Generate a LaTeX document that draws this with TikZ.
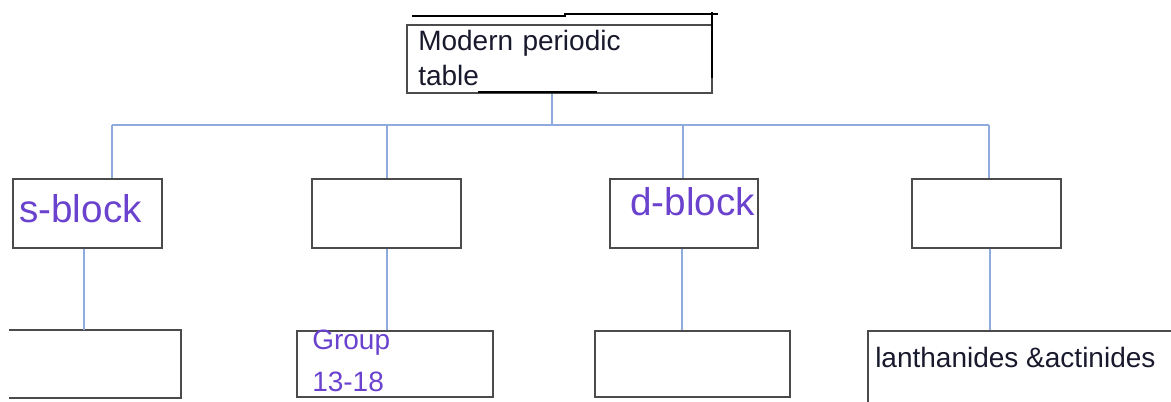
\documentclass[tikz,border=0pt]{standalone}
\usepackage{fontspec}
\setmainfont{Liberation Sans}
\usetikzlibrary{positioning,calc}
\definecolor{linkblue}{RGB}{143,170,220}
\definecolor{blockpurple}{RGB}{106,66,206}
\definecolor{boxgray}{RGB}{75,75,75}
\definecolor{inkdark}{RGB}{25,25,45}

\begin{document}
\begin{tikzpicture}[x=0.75pt,y=-0.75pt,
        box/.style={draw=boxgray,line width=1.6pt,inner sep=0pt,minimum height=51.75pt},
        lowbox/.style={box,minimum height=49.5pt},
        link/.style={draw=linkblue,line width=1.3pt},
        scribble/.style={draw=black,line width=1.6pt},
        txt/.style={inner sep=0pt,anchor=base west,align=left},
        small/.style={txt,font=\fontsize{21}{26.25}\selectfont,text=inkdark},
        big/.style={txt,font=\fontsize{29}{34}\selectfont,text=blockpurple}]
    \useasboundingbox (0,0) rectangle (1171,402);

    % top box
    \node[box,minimum width=228.75pt,minimum height=51pt] (T) at (559.5,59) {};
    \node[small,text width=212pt] (tT) at (418,51) {Modern periodic\\table};
    \draw[scribble] (412,16) -- (565,16) -- (565,14) -- (718,14);
    \draw[scribble] (712,12) -- (712,78);
    \draw[scribble,line width=2pt] (478,92) -- (597,92);

    % second row
    \node[box,minimum width=111.75pt] (B1) at (87.5,213.5) {};
    \node[box,minimum width=111.75pt] (B2) at (386.5,213.5) {};
    \node[box,minimum width=111pt] (B3) at (684,213.5) {};
    \node[box,minimum width=111.75pt] (B4) at (986.5,213.5) {};
    \node[big] (tB1) at (19,223) {s-block};
    \node[big] (tB3) at (630,216) {d-block};

    % third row
    \node[lowbox,draw=none,minimum width=127.5pt] (C1) at (95,364) {};
    \draw[boxgray,line width=1.6pt] (C1.north west) -- (C1.north east) -- (C1.south east) -- (C1.south west);
    \node[lowbox,minimum width=147pt] (C2) at (395,364) {};
    \node[lowbox,minimum width=146.25pt] (C3) at (692.5,364) {};
    \node[lowbox,minimum width=240pt,minimum height=60pt] (C4) at (1028,371) {};
    \node[small,text=blockpurple,text width=120pt,font=\fontsize{21}{31.5}\selectfont] (tC2) at (312,350) {Group\\13-18};
    \node[small] (tC4) at (875,368) {lanthanides \&actinides};

    % connectors
    \coordinate (J0) at (552,125);
    \foreach \n/\x in {1/112,2/387,3/683,4/989}
        {
            \coordinate (J\n) at (\x,125);
        }
    \draw[link] (T.south -| J0) -- (J0);
    \draw[link] (J1) -- (J4);
    \foreach \n in {1,...,4}
        {
            \draw[link] (J\n) -- (J\n |- B\n.north);
        }
    \foreach \n/\x in {1/84,2/387,3/682,4/990}
        {
            \coordinate (K\n) at (\x,248);
            \draw[link] (K\n |- B\n.south) -- (K\n |- C\n.north);
        }
\end{tikzpicture}
\end{document}
